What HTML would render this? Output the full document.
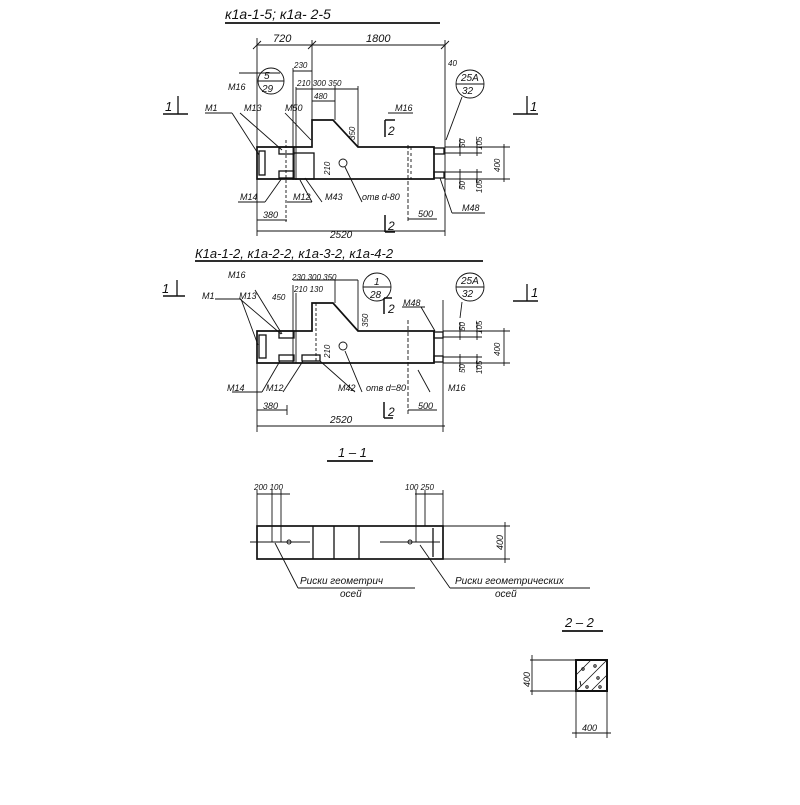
<!DOCTYPE html>
<html><head><meta charset="utf-8"><style>
html,body{margin:0;padding:0;background:#fff;}
svg text{font-family:"Liberation Sans",sans-serif;font-style:italic;fill:#111;}
</style></head><body>
<svg width="800" height="800" viewBox="0 0 800 800" xmlns="http://www.w3.org/2000/svg">
<g stroke="#111" fill="none" stroke-width="0.9">
<!-- ===== View 1 ===== -->
<line x1="225" y1="23" x2="440" y2="23" stroke-width="1.8"/>
<line x1="257" y1="45" x2="445" y2="45"/>
<line x1="257" y1="38" x2="257" y2="236"/>
<line x1="312" y1="40" x2="312" y2="120"/>
<line x1="445" y1="40" x2="445" y2="236"/>
<line x1="253" y1="49" x2="261" y2="41"/><line x1="308" y1="49" x2="316" y2="41"/><line x1="441" y1="49" x2="449" y2="41"/>
<line x1="293" y1="71" x2="312" y2="71"/><line x1="293" y1="68" x2="293" y2="180"/>
<line x1="296" y1="89" x2="358" y2="89"/><line x1="296" y1="87" x2="296" y2="180"/>
<line x1="312" y1="101" x2="335" y2="101"/><line x1="335" y1="86" x2="335" y2="120"/><line x1="358" y1="86" x2="358" y2="147"/>
<line x1="280" y1="73" x2="239" y2="73"/>
<path d="M257 147 H312 V120 H333 L358 147 H434 V179 H257 Z" stroke-width="1.7"/>
<rect x="434" y="148" width="10" height="6" stroke-width="1.3"/>
<rect x="434" y="172" width="10" height="6" stroke-width="1.3"/>
<rect x="259" y="151" width="6" height="24" stroke-width="1.3"/>
<rect x="279" y="147" width="15" height="7" stroke-width="1.3"/>
<rect x="279" y="171" width="15" height="7" stroke-width="1.3"/>
<rect x="294" y="153" width="20" height="26" stroke-width="1.3"/>
<circle cx="343" cy="163" r="4"/>
<line x1="408" y1="145" x2="408" y2="222" stroke-dasharray="4,2"/>
<line x1="411" y1="147" x2="411" y2="179" stroke-dasharray="3,3"/>
<line x1="286" y1="140" x2="286" y2="222" stroke-dasharray="3,2"/>
<line x1="205" y1="113" x2="232" y2="113"/><line x1="232" y1="113" x2="259" y2="155"/>
<line x1="240" y1="113" x2="282" y2="150"/>
<line x1="285" y1="113" x2="311" y2="140"/>
<line x1="388" y1="113" x2="413" y2="113"/>
<line x1="238" y1="202" x2="265" y2="202"/><line x1="265" y1="202" x2="282" y2="178"/>
<line x1="287" y1="202" x2="312" y2="202"/><line x1="312" y1="202" x2="300" y2="180"/>
<line x1="322" y1="202" x2="305" y2="178"/>
<line x1="362" y1="202" x2="345" y2="167"/>
<line x1="452" y1="213" x2="485" y2="213"/><line x1="452" y1="213" x2="440" y2="178"/>
<line x1="446" y1="140" x2="462" y2="97"/>
<circle cx="271" cy="81" r="13"/><line x1="258" y1="81" x2="284" y2="81"/>
<circle cx="470" cy="84" r="14"/><line x1="456" y1="84" x2="484" y2="84"/>
<line x1="445" y1="147" x2="510" y2="147"/><line x1="445" y1="179" x2="510" y2="179"/>
<line x1="445" y1="153" x2="482" y2="153"/><line x1="445" y1="172" x2="482" y2="172"/>
<line x1="504" y1="144" x2="504" y2="182"/>
<line x1="477" y1="140" x2="477" y2="156"/><line x1="477" y1="169" x2="477" y2="185"/>
<line x1="460" y1="138" x2="460" y2="156"/><line x1="460" y1="169" x2="460" y2="188"/>
<line x1="257" y1="220" x2="287" y2="220"/>
<line x1="408" y1="219" x2="437" y2="219"/>
<line x1="257" y1="231" x2="445" y2="231"/>
<line x1="385" y1="215" x2="385" y2="232" stroke-width="1.5"/><line x1="385" y1="232" x2="395" y2="232" stroke-width="1.5"/>
<line x1="385" y1="120" x2="385" y2="137" stroke-width="1.5"/><line x1="385" y1="120" x2="395" y2="120" stroke-width="1.5"/>
<line x1="163" y1="114" x2="188" y2="114" stroke-width="1.5"/><line x1="178" y1="96" x2="178" y2="114" stroke-width="1.3"/>
<line x1="513" y1="114" x2="538" y2="114" stroke-width="1.5"/><line x1="527" y1="96" x2="527" y2="114" stroke-width="1.3"/>

<!-- ===== View 2 ===== -->
<line x1="195" y1="261" x2="483" y2="261" stroke-width="1.8"/>
<path d="M257 331 H312 V303 H333 L358 331 H434 V363 H257 Z" stroke-width="1.7"/>
<rect x="434" y="332" width="9" height="6" stroke-width="1.3"/>
<rect x="434" y="356" width="9" height="6" stroke-width="1.3"/>
<rect x="259" y="335" width="7" height="23" stroke-width="1.3"/>
<rect x="279" y="331" width="15" height="7" stroke-width="1.3"/>
<rect x="279" y="355" width="15" height="6" stroke-width="1.3"/>
<rect x="302" y="355" width="18" height="6" stroke-width="1.3"/>
<circle cx="343" cy="346" r="4"/>
<line x1="408" y1="320" x2="408" y2="415" stroke-dasharray="4,2"/>
<line x1="316" y1="303" x2="316" y2="363" stroke-dasharray="3,2"/>
<line x1="257" y1="331" x2="257" y2="432"/><line x1="443" y1="300" x2="443" y2="432"/>
<line x1="293" y1="285" x2="293" y2="363"/><line x1="296" y1="293" x2="296" y2="363"/>
<line x1="293" y1="280" x2="358" y2="280"/><line x1="358" y1="280" x2="358" y2="331"/>
<line x1="335" y1="280" x2="335" y2="303"/>
<line x1="255" y1="290" x2="282" y2="334"/>
<line x1="215" y1="299" x2="241" y2="299"/><line x1="241" y1="299" x2="258" y2="345"/>
<line x1="240" y1="299" x2="281" y2="334"/>
<line x1="402" y1="307" x2="425" y2="307"/><line x1="421" y1="307" x2="435" y2="331"/>
<line x1="232" y1="392" x2="262" y2="392"/><line x1="262" y1="392" x2="280" y2="361"/>
<line x1="283" y1="392" x2="303" y2="361"/>
<line x1="355" y1="392" x2="320" y2="361"/>
<line x1="362" y1="392" x2="345" y2="351"/>
<line x1="430" y1="392" x2="418" y2="370"/>
<line x1="460" y1="318" x2="462" y2="302"/>
<circle cx="377" cy="287" r="14"/><line x1="363" y1="287" x2="391" y2="287"/>
<circle cx="470" cy="287" r="14"/><line x1="456" y1="287" x2="484" y2="287"/>
<line x1="443" y1="331" x2="510" y2="331"/><line x1="443" y1="363" x2="510" y2="363"/>
<line x1="443" y1="337" x2="482" y2="337"/><line x1="443" y1="357" x2="482" y2="357"/>
<line x1="504" y1="328" x2="504" y2="366"/>
<line x1="477" y1="322" x2="477" y2="340"/><line x1="477" y1="354" x2="477" y2="370"/>
<line x1="460" y1="322" x2="460" y2="340"/><line x1="460" y1="354" x2="460" y2="370"/>
<line x1="257" y1="410" x2="287" y2="410"/><line x1="287" y1="405" x2="287" y2="415"/>
<line x1="408" y1="410" x2="437" y2="410"/>
<line x1="257" y1="426" x2="445" y2="426"/>
<line x1="384" y1="402" x2="384" y2="418" stroke-width="1.5"/><line x1="384" y1="418" x2="393" y2="418" stroke-width="1.5"/>
<line x1="384" y1="298" x2="384" y2="314" stroke-width="1.5"/><line x1="384" y1="298" x2="392" y2="298" stroke-width="1.5"/>
<line x1="163" y1="296" x2="185" y2="296" stroke-width="1.5"/><line x1="177" y1="280" x2="177" y2="296" stroke-width="1.3"/>
<line x1="513" y1="301" x2="538" y2="301" stroke-width="1.5"/><line x1="527" y1="284" x2="527" y2="301" stroke-width="1.3"/>

<!-- ===== 1-1 ===== -->
<line x1="327" y1="461" x2="373" y2="461" stroke-width="1.8"/>
<rect x="257" y="526" width="186" height="33" stroke-width="1.7"/>
<line x1="313" y1="526" x2="313" y2="559" stroke-width="1.3"/>
<line x1="334" y1="526" x2="334" y2="559" stroke-width="1.3"/>
<line x1="359" y1="526" x2="359" y2="559" stroke-width="1.3"/>
<line x1="433" y1="528" x2="433" y2="557" stroke-width="1.3"/>
<line x1="250" y1="542" x2="310" y2="542"/><line x1="380" y1="542" x2="440" y2="542"/>
<circle cx="289" cy="542" r="2"/><circle cx="410" cy="542" r="2"/>
<line x1="257" y1="494" x2="290" y2="494"/><line x1="257" y1="490" x2="257" y2="526"/>
<line x1="272" y1="490" x2="272" y2="542"/><line x1="281" y1="490" x2="281" y2="542"/>
<line x1="415" y1="494" x2="443" y2="494"/><line x1="416" y1="490" x2="416" y2="542"/><line x1="425" y1="490" x2="425" y2="526"/><line x1="443" y1="490" x2="443" y2="526"/>
<line x1="443" y1="526" x2="510" y2="526"/><line x1="443" y1="559" x2="510" y2="559"/><line x1="505" y1="522" x2="505" y2="563"/>
<line x1="275" y1="543" x2="298" y2="588"/><line x1="298" y1="588" x2="415" y2="588"/>
<line x1="420" y1="545" x2="450" y2="588"/><line x1="450" y1="588" x2="590" y2="588"/>

<!-- ===== 2-2 ===== -->
<line x1="562" y1="631" x2="603" y2="631" stroke-width="1.8"/>
<rect x="576" y="660" width="31" height="31" stroke-width="2"/>
<g stroke-width="0.8"><line x1="576" y1="675" x2="591" y2="660"/><line x1="576" y1="691" x2="607" y2="660"/><line x1="591" y1="691" x2="607" y2="675"/></g>
<g stroke-width="1"><circle cx="583" cy="669" r="1.2"/><circle cx="595" cy="666" r="1.2"/><circle cx="598" cy="678" r="1.2"/><circle cx="587" cy="687" r="1.2"/><circle cx="600" cy="687" r="1.2"/><line x1="580" y1="681" x2="581" y2="686"/></g>
<line x1="530" y1="660" x2="576" y2="660"/><line x1="530" y1="691" x2="576" y2="691"/><line x1="532" y1="655" x2="532" y2="695"/>
<line x1="576" y1="691" x2="576" y2="738"/><line x1="607" y1="691" x2="607" y2="738"/><line x1="572" y1="733" x2="611" y2="733"/>
</g>
<g font-size="11">
<text x="225" y="19" font-size="14">к1а-1-5;  к1а- 2-5</text>
<text x="273" y="42">720</text><text x="366" y="42">1800</text>
<text x="294" y="68" font-size="8">230</text>
<text x="297" y="86" font-size="8">210 300  350</text>
<text x="314" y="99" font-size="8">480</text>
<text x="448" y="66" font-size="8">40</text>
<text x="264" y="79" font-size="10">5</text><text x="262" y="92" font-size="10">29</text>
<text x="461" y="81" font-size="10">25A</text><text x="462" y="94" font-size="10">32</text>
<text x="228" y="90" font-size="9">М16</text>
<text x="205" y="111" font-size="9">М1</text><text x="244" y="111" font-size="9">М13</text><text x="285" y="111" font-size="9">М50</text><text x="395" y="111" font-size="9">М16</text>
<text x="240" y="200" font-size="9">М14</text><text x="293" y="200" font-size="9">М12</text><text x="325" y="200" font-size="9">М43</text><text x="362" y="200" font-size="9">отв d-80</text>
<text x="462" y="211" font-size="9">М48</text>
<text x="388" y="135" font-size="12">2</text><text x="388" y="230" font-size="12">2</text>
<text x="263" y="218" font-size="9">380</text><text x="418" y="217" font-size="9">500</text>
<text x="330" y="238" font-size="10">2520</text>
<text x="165" y="111" font-size="13">1</text><text x="530" y="111" font-size="13">1</text>
<g font-size="8">
<text transform="translate(355,140) rotate(-90)">350</text>
<text transform="translate(330,175) rotate(-90)">210</text>
<text transform="translate(465,148) rotate(-90)">50</text>
<text transform="translate(482,150) rotate(-90)">105</text>
<text transform="translate(465,190) rotate(-90)">50</text>
<text transform="translate(482,193) rotate(-90)">105</text>
<text transform="translate(500,172) rotate(-90)">400</text>
</g>

<text x="195" y="258" font-size="13">К1а-1-2, к1а-2-2, к1а-3-2, к1а-4-2</text>
<text x="228" y="278" font-size="9">М16</text>
<text x="292" y="280" font-size="8">230 300 350</text>
<text x="294" y="292" font-size="8">210 130</text>
<text x="272" y="300" font-size="8">450</text>
<text x="374" y="285" font-size="10">1</text><text x="370" y="298" font-size="10">28</text>
<text x="461" y="284" font-size="10">25A</text><text x="462" y="297" font-size="10">32</text>
<text x="202" y="299" font-size="9">М1</text><text x="239" y="299" font-size="9">М13</text><text x="403" y="306" font-size="9">М48</text>
<text x="227" y="391" font-size="9">М14</text><text x="266" y="391" font-size="9">М12</text><text x="338" y="391" font-size="9">М42</text><text x="366" y="391" font-size="9">отв d=80</text><text x="448" y="391" font-size="9">М16</text>
<text x="388" y="313" font-size="12">2</text><text x="388" y="416" font-size="12">2</text>
<text x="263" y="409" font-size="9">380</text><text x="418" y="409" font-size="9">500</text>
<text x="330" y="423" font-size="10">2520</text>
<text x="162" y="293" font-size="13">1</text><text x="531" y="297" font-size="13">1</text>
<g font-size="8">
<text transform="translate(368,327) rotate(-90)">350</text>
<text transform="translate(330,358) rotate(-90)">210</text>
<text transform="translate(465,331) rotate(-90)">50</text>
<text transform="translate(482,334) rotate(-90)">105</text>
<text transform="translate(465,373) rotate(-90)">50</text>
<text transform="translate(482,374) rotate(-90)">105</text>
<text transform="translate(500,356) rotate(-90)">400</text>
</g>

<text x="338" y="457" font-size="13">1 – 1</text>
<text x="254" y="490" font-size="8">200 100</text><text x="405" y="490" font-size="8">100 250</text>
<text transform="translate(503,550) rotate(-90)" font-size="9">400</text>
<text x="300" y="584" font-size="10">Риски геометрич</text><text x="340" y="597" font-size="10">осей</text>
<text x="455" y="584" font-size="10">Риски геометрических</text><text x="495" y="597" font-size="10">осей</text>

<text x="565" y="627" font-size="13">2 – 2</text>
<text transform="translate(530,687) rotate(-90)" font-size="9">400</text>
<text x="582" y="731" font-size="9">400</text>
</g>
</svg>
</body></html>
